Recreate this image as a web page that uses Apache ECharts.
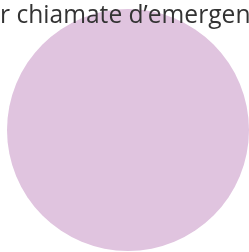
<!DOCTYPE html>
<html>
<head>
<meta charset="utf-8">
<script src="https://cdn.jsdelivr.net/npm/echarts@6/dist/echarts.min.js"></script>
<style>
  * { margin: 0; padding: 0; }
  html, body { width: 249px; height: 252px; background: #fff; overflow: hidden; }
  #main { width: 249px; height: 252px; }
</style>
</head>
<body>
<div id="main"></div>
<script>
// dati del grafico
var titleText = 'r chiamate d\u2019emergen';
var categories = ['Chiamate'];
var values = [100];
var colors = ['#e0c4df'];

var myChart = echarts.init(document.getElementById('main'));
var option = {
    animation: false,
    title: {
        text: titleText,
        left: -5,
        top: -2,
        textStyle: {
            fontFamily: 'Open Sans',
            fontWeight: 'normal',
            fontSize: 24.6,
            color: '#333333'
        },
        z: 10
    },
    series: [{
        type: 'pie',
        center: [128, 130],
        radius: [0, 121],
        label: { show: false },
        labelLine: { show: false },
        silent: true,
        data: categories.map(function (c, i) {
            return { name: c, value: values[i], itemStyle: { color: colors[i] } };
        })
    }]
};
myChart.setOption(option);
</script>
</body>
</html>
